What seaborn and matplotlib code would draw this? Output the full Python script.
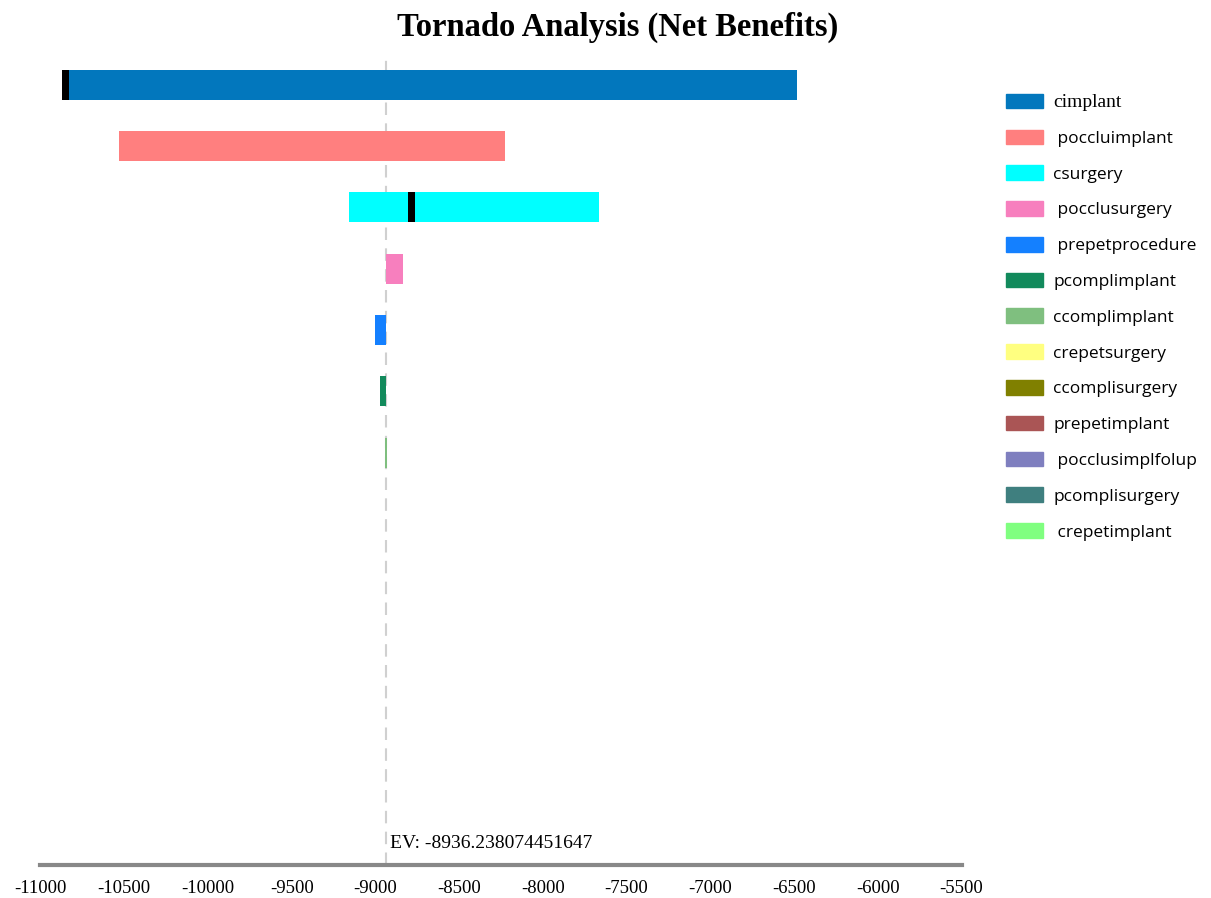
import matplotlib
matplotlib.use('Agg')
import matplotlib.pyplot as plt
import matplotlib.transforms as mtransforms
from matplotlib.patches import Patch
import seaborn as sns
import pandas as pd

# Datos del gráfico tornado
variables = ['cimplant', 'poccluimplant', 'csurgery', 'pocclusurgery', 'prepetprocedure',
             'pcomplimplant', 'ccomplimplant', 'crepetsurgery', 'ccomplisurgery',
             'prepetimplant', 'pocclusimplfolup', 'pcomplisurgery', 'crepetimplant']
ev = -8936.238074451647
low = [-10870, -10532, -9159, ev, -9000, -8974, -8940, ev, ev, ev, ev, ev, ev]
high = [-6480, -8224, -7666, -8837, ev, ev, -8933, ev, ev, ev, ev, ev, ev]
marcas = [-10850, None, -8783, None, None, None, None, None, None, None, None, None, None]
colores = ['#0277BD', '#FF7F7F', '#00FFFF', '#F77FBE', '#1480FF', '#128A5C', '#7FBF7F',
           '#FFFF80', '#808000', '#AA5555', '#7F7FBF', '#3F7F7F', '#80FF80']
sangria = [False, True, False, True, True, False, False, False, False, False, True, False, True]

df = pd.DataFrame({'variable': variables, 'low': low, 'high': high})
df['ancho'] = df['high'] - df['low']

sns.set_style('white')
plt.rcParams['font.family'] = ['Liberation Serif', 'DejaVu Serif']
plt.rcParams['text.color'] = 'black'
plt.rcParams['xtick.labelcolor'] = 'black'

fig = plt.figure(figsize=(12.11, 8.98), dpi=100)
ax = fig.add_axes([0.0334, 0.0367, 0.7606, 0.9033])

sns.barplot(data=df, x='ancho', y='variable', left=df['low'].values, color='#888888',
            width=0.49, errorbar=None, ax=ax, zorder=2)
for p, c in zip(ax.patches, colores):
    p.set_facecolor(c)
    p.set_edgecolor(c)
    p.set_linewidth(0)

# marcas negras
for i, m in enumerate(marcas):
    if m is not None:
        ax.barh(i, 40, left=m - 20, height=0.49, color='black', linewidth=0, zorder=3)

ax.axvline(ev, color='#d0d0d0', lw=1.5, dashes=(6, 4), zorder=1)

ax.set_xlim(-11000, -5500)
ax.set_ylim(12.72, -0.5)
ax.set_xticks(range(-11000, -5499, 500))
ax.set_xticklabels([str(t) for t in range(-11000, -5499, 500)], fontsize=13.5)
ax.set_yticks([])
ax.set_xlabel('')
ax.set_ylabel('')
for s in ['top', 'right', 'left']:
    ax.spines[s].set_visible(False)
ax.spines['bottom'].set_color('#888888')
ax.spines['bottom'].set_linewidth(3)
ax.tick_params(axis='x', direction='inout', length=16, width=1, color='#cccccc', pad=3)

trans = mtransforms.blended_transform_factory(ax.transData, ax.transAxes)
ax.text(ev + 24, 0.026, 'EV: ' + str(ev), transform=trans, fontsize=14,
        va='center', ha='left')

fig.text(0.51, 0.969, 'Tornado Analysis (Net Benefits)', fontsize=23.5,
         fontweight='bold', ha='center', va='center')

handles = [Patch(facecolor=c, edgecolor=c, label=(' ' if s else '') + v)
           for v, c, s in zip(variables, colores, sangria)]
leg = fig.legend(handles=handles, loc='upper left', bbox_to_anchor=(0.818, 0.913),
                 frameon=False, handlelength=2.1, handleheight=0.92,
                 labelspacing=1.065, handletextpad=0.6, prop={'family': 'Open Sans', 'size': 12.5})
leg.get_texts()[0].set_family('Liberation Serif')
leg.get_texts()[0].set_fontsize(14)

plt.savefig('out.png', dpi=100)
